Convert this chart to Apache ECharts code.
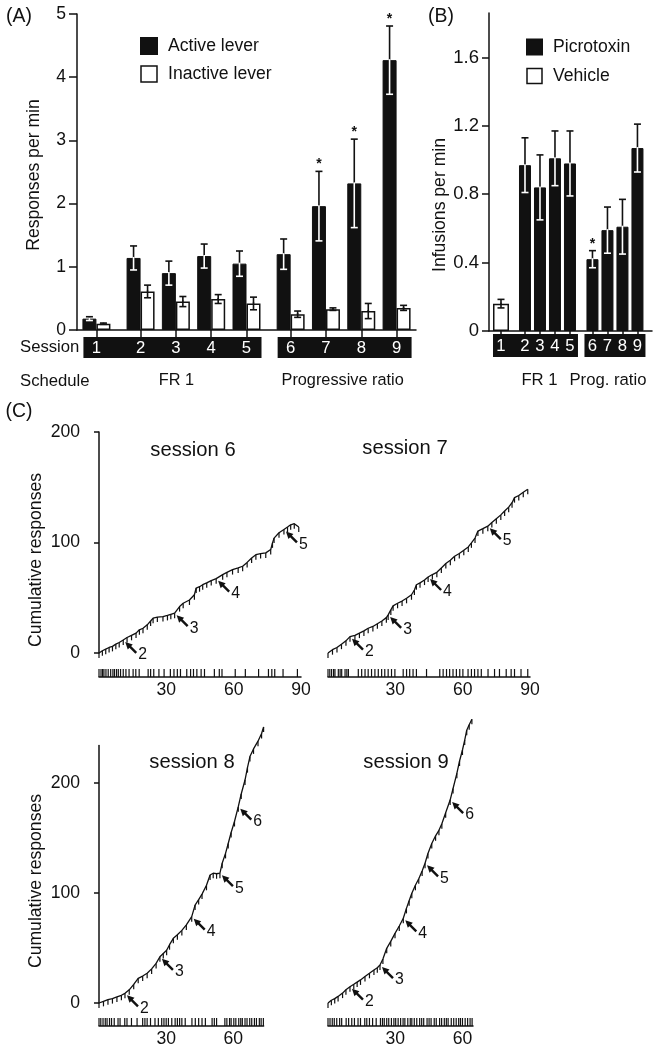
<!DOCTYPE html>
<html><head><meta charset="utf-8">
<script src="https://cdn.jsdelivr.net/npm/echarts@6/dist/echarts.min.js"></script>
<style>html,body{margin:0;padding:0;background:#fff}#c{width:654px;height:1050px}</style>
</head><body><div id="c"></div>
<script>
// ================= DATA =================
const sessions = [1, 2, 3, 4, 5, 6, 7, 8, 9];
// Panel A
const activeMean   = [0.18, 1.14, 0.90, 1.17, 1.05, 1.20, 1.96, 2.32, 4.27];
const activeSE     = [0.03, 0.19, 0.19, 0.19, 0.20, 0.24, 0.55, 0.70, 0.54];
const activeSig    = [0, 0, 0, 0, 0, 0, 1, 1, 1];
const inactiveMean = [0.10, 0.61, 0.45, 0.49, 0.42, 0.25, 0.33, 0.30, 0.35];
const inactiveSE   = [0.01, 0.10, 0.08, 0.07, 0.10, 0.05, 0.02, 0.12, 0.04];
const yTicksA = [0, 1, 2, 3, 4, 5];
// Panel B
const picroMean   = [null, 0.97, 0.84, 1.01, 0.98, 0.42, 0.59, 0.61, 1.07];
const picroSE     = [null, 0.16, 0.19, 0.16, 0.19, 0.05, 0.135, 0.16, 0.14];
const picroSig    = [0, 0, 0, 0, 0, 1, 0, 0, 0];
const vehicleMean = [0.16, null, null, null, null, null, null, null, null];
const vehicleSE   = [0.025, null, null, null, null, null, null, null, null];
const yTicksB = [0, 0.4, 0.8, 1.2, 1.6];
// schedule groups (first session, last session)
const scheduleGroups = [[1, 5], [6, 9]];
const scheduleNamesA = ['FR 1', 'Progressive ratio'];
const scheduleNamesB = ['FR 1', 'Prog. ratio'];
// Panel C: cumulative records (minutes, cumulative responses)
const curveS6 = [[0,0],[1.5,2],[3,3.5],[4.5,5],[6,6],[7.5,8],[9,9.5],[10.8,11.8],[12.5,14],[14.5,16],[16.5,18],[18,21],[19.6,22.4],[21.5,25.5],[23,29],[24.1,31.5],[26,32.5],[28.5,33],[30.5,34],[32,35],[33.7,36],[35.9,42],[37.5,45],[40.3,48],[42.5,52.7],[43.3,58.8],[44.8,60],[46.2,61.8],[48,63.5],[50,65.5],[52.2,67.3],[55.1,70.9],[57,73],[59.5,75.5],[62,77],[64,78.5],[66,82],[68,86],[69.9,89],[72,90],[74.3,90.6],[76.5,93.6],[77.3,99.7],[78,104],[80.2,108.8],[82.4,111.8],[84,114],[85.4,116],[87,117],[89,114]];
const curveS7 = [[0,0],[2,3],[4,5],[6,8],[8,11],[9.8,14.8],[12,16],[14,18],[16,20],[17.9,22.4],[20,24],[22,26.5],[24,29],[26,32],[26.8,34.5],[28,39],[29,42.7],[31,45],[33,47],[35,49.5],[37.2,52.7],[38.5,57],[39.4,61.8],[41,63.5],[43,66],[44.6,68.8],[46.5,71],[48.5,73],[50.5,77],[52.5,81],[54.5,84],[56.4,87.6],[58.5,90],[60.5,93],[62.5,96],[63.9,99.7],[65.5,104],[66.8,110.3],[69,112.5],[71.2,114.8],[73,118],[75,121.5],[77,125],[78.7,128.5],[80.5,132],[82,136],[83.1,140.6],[85,142.5],[87,145.5],[89,148.2]];
const curveS8 = [[0,0],[2,1.5],[4,3],[6,4],[8,5.5],[10,7],[11.6,8.8],[13.5,12],[15.5,17],[17.5,22.4],[19.5,24.5],[21.5,27],[23.5,31],[25.5,36],[27.2,42],[28.7,45],[30.2,48],[31.5,53],[33.2,58.8],[35,62],[37,66],[39,71],[41.4,78.5],[42.9,89],[44.5,94],[46,99],[48,107],[49.6,116.4],[51,118],[52.5,117.5],[54,118],[55,127],[56.5,136],[57.7,145],[59,155],[60.5,165],[62.2,178.5],[63.5,190],[65.2,202.7],[66.3,214],[67.4,224],[69,231],[71,238],[72.6,245],[73.5,251]];
const curveS9 = [[0,0],[1.5,2.5],[3,4],[4.5,6],[6.5,9],[8,12],[9.8,14.8],[11.5,17],[13,19],[14.5,21],[16.5,24],[18.5,27],[20.5,30],[22,32],[23.2,34.5],[24.5,40],[26.2,49.7],[28,56],[29.9,63.3],[31.8,70],[33.6,77],[35,86],[36.2,93],[37.4,99.7],[39,107],[40.5,113],[42,120],[43.3,127],[44.6,136],[46.3,145],[48,152],[49.5,157],[50.8,163],[52.5,173],[54.5,184.5],[55.8,195],[57.5,208.8],[58.7,220],[60,230],[61,239],[61.9,248],[63,253],[64.2,258]];
// arrows (minute, cumulative) marking ratio steps
const arrowsS6 = [[10.8,11.8],[33.7,36],[52.2,67.3],[82.4,111.8]];
const arrowsS7 = [[9.8,14.8],[26.8,34.5],[44.6,68.8],[71.2,114.8]];
const arrowsS8 = [[11.6,8.8],[27.2,42],[41.4,78.5],[54,118],[62.2,178.5]];
const arrowsS9 = [[9.8,14.8],[23.2,34.5],[33.6,77],[43.3,127],[54.5,184.5]];
const arrowLabels = ['2', '3', '4', '5', '6'];
// infusion event times (minutes)
const eventsS6 = [0,0.9,1.6,2.2,3.1,4.1,5.2,6.2,6.9,7.8,8.6,9.6,10.8,12.0,13.4,15.2,16.4,17.9,21.9,23.0,24.4,26.7,29.0,31.8,33.4,34.9,36.3,39.1,40.8,42.1,43.6,45.5,47.0,51.4,53.6,54.8,60.7,65.2,71.1,75.5,77.0,78.3,82.0,88.4];
const eventsS7 = [0,0.8,1.6,2.5,3.1,4.6,5.4,6.1,7.6,8.4,9.1,13.5,15.0,16.5,17.9,19.4,20.9,22.4,23.9,25.3,26.8,28.3,29.8,33.5,35.0,36.4,37.9,39.4,43.9,49.8,51.3,52.8,54.2,55.7,57.2,58.7,60.1,62.4,63.9,65.3,66.8,68.3,71.3,74.2,76.4,79.4,81.6,83.1,86.0,89.0];
const eventsS8 = [0,0.8,1.8,2.8,3.6,4.7,5.6,6.8,8.5,9.4,11.5,12.5,14.5,17.0,19.5,20.5,21.5,23.0,25.0,26.5,28.0,29.0,30.0,31.0,32.5,34.0,35.0,36.0,37.0,38.5,41.5,43.0,44.5,46.0,47.5,50.5,51.5,52.5,56.2,57.1,58.3,59.0,60.2,61.1,62.4,63.3,64.0,65.2,66.1,67.3,68.2,69.4,70.3,71.6,72.4,73.4];
const eventsS9 = [0,0.9,1.9,2.8,3.9,5.2,6.1,8.1,9.2,10.6,11.8,13.4,14.5,16.4,17.3,18.5,19.9,21.5,23.4,24.3,25.1,26.2,27.1,28.3,29.4,30.2,31.3,32.4,33.5,34.3,35.6,36.7,37.4,38.5,39.6,40.9,41.8,42.7,44.2,45.1,46.0,47.4,48.3,49.8,50.7,51.9,52.8,53.6,55.0,56.1,57.2,58.3,59.1,60.0,61.2,62.3,63.4,64.3];
const xTicksC = [30, 60, 90];
const yTicksC = [0, 100, 200];

// ================= STYLE / LAYOUT =================
function hasFont(name) {
  const c = document.createElement('canvas').getContext('2d');
  const s = 'Session lever 0123456789';
  c.font = '40px monospace'; const base = c.measureText(s).width;
  c.font = '40px "' + name + '", monospace'; return c.measureText(s).width !== base;
}
const NARROW = hasFont('Liberation Sans Narrow');
const FF = NARROW ? '"Liberation Sans Narrow", "Liberation Sans", Arial, sans-serif' : '"Liberation Sans", Arial, sans-serif';
const fs = s => NARROW ? s : Math.round(s * 0.88 * 10) / 10;
const BLACK = '#111';
const posFn = (g1, g2) => s => s + (s >= 2 ? g1 : 0) + (s >= 6 ? g2 : 0);
const posA = posFn(0.25, 0.25);
const posB = posFn(0.6, 0.5);

function textStyle(size, extra) {
  return Object.assign({ fontFamily: FF, fontSize: fs(size), fill: BLACK, align: 'center', verticalAlign: 'middle', textAlign: 'center', textVerticalAlign: 'middle' }, extra || {});
}

// error-bar renderer
function errRender(params, api) {
  const x = api.value(0), m = api.value(1), se = api.value(2), off = api.value(3), dark = api.value(4), sig = api.value(5);
  const pT = api.coord([x, m + se]), pM = api.coord([x, m]), pB = api.coord([x, m - se]);
  const cx = pM[0] + off, cw = 3.5, lw = 1.6;
  const lower = dark ? '#fff' : BLACK;
  const ch = [
    { type: 'line', shape: { x1: cx, y1: pM[1], x2: cx, y2: pT[1] }, style: { stroke: BLACK, lineWidth: lw } },
    { type: 'line', shape: { x1: cx - cw, y1: pT[1], x2: cx + cw, y2: pT[1] }, style: { stroke: BLACK, lineWidth: lw } },
    { type: 'line', shape: { x1: cx, y1: pM[1] - 1, x2: cx, y2: pB[1] }, style: { stroke: lower, lineWidth: lw } },
    { type: 'line', shape: { x1: cx - cw, y1: pB[1], x2: cx + cw, y2: pB[1] }, style: { stroke: lower, lineWidth: lw } }
  ];
  if (sig) ch.push({ type: 'text', style: textStyle(16, { text: '*', x: cx, y: pT[1] - 7, fontWeight: 'bold' }) });
  return { type: 'group', children: ch };
}

function boxRender(cfg) {
  return function (params, api) {
    const a = api.coord([api.value(0), 0]), b = api.coord([api.value(1), 0]);
    const x0 = a[0] - cfg.padL, x1 = b[0] + cfg.padR, y0 = a[1] + cfg.dy;
    return { type: 'group', children: [
      { type: 'rect', shape: { x: x0, y: y0, width: x1 - x0, height: cfg.h }, style: { fill: BLACK } },
      { type: 'text', style: textStyle(cfg.nameSize, { text: cfg.names[params.dataIndex], x: (x0 + x1) / 2 + cfg.nameDx[params.dataIndex], y: a[1] + cfg.nameDy }) }
    ] };
  };
}
function numRender(cfg) {
  return function (params, api) {
    const p = api.coord([api.value(0), 0]);
    return { type: 'text', style: textStyle(cfg.size, { text: String(api.value(1)), x: p[0], y: p[1] + cfg.dy, fill: '#fff' }) };
  };
}
function arrowRender(labels) {
  return function (params, api) {
    const p = api.coord([api.value(0), api.value(1)]);
    const tx = p[0] + 2, ty = p[1] + 2;
    return { type: 'group', children: [
      { type: 'polygon', shape: { points: [[tx, ty], [tx + 7.5, ty + 2.5], [tx + 2.5, ty + 7.5]] }, style: { fill: BLACK } },
      { type: 'line', shape: { x1: tx + 4, y1: ty + 4, x2: tx + 11, y2: ty + 11 }, style: { stroke: BLACK, lineWidth: 2.4 } },
      { type: 'text', style: textStyle(18, { text: labels[params.dataIndex], x: tx + 13, y: ty + 13, align: 'left', textAlign: 'left' }) }
    ] };
  };
}

// ================= BUILD =================
const grids = [], xAxes = [], yAxes = [], series = [];
const axisLineStyle = { color: BLACK, width: 1.5 };

// ---------- Panel A ----------
grids.push({ left: 77, top: 14, width: 339, height: 316 });
xAxes.push({ type: 'value', gridIndex: 0, min: 0.45, max: 10.05, axisLine: { show: true, lineStyle: axisLineStyle },
  axisTick: { show: true, customValues: sessions.map(posA), length: 7, lineStyle: axisLineStyle }, axisLabel: { show: false }, splitLine: { show: false } });
yAxes.push({ type: 'value', gridIndex: 0, min: 0, max: 5, interval: 1, axisLine: { show: true, lineStyle: axisLineStyle },
  axisTick: { show: true, length: 8, lineStyle: axisLineStyle }, splitLine: { show: false },
  axisLabel: { customValues: yTicksA, margin: 11, fontFamily: FF, fontSize: fs(20), color: BLACK } });
series.push({ name: 'Active lever', type: 'bar', xAxisIndex: 0, yAxisIndex: 0, barWidth: 14, barGap: '0%',
  data: sessions.map((s, i) => [posA(s), activeMean[i]]), itemStyle: { color: BLACK, borderColor: BLACK, borderWidth: 1 } });
series.push({ name: 'Inactive lever', type: 'bar', xAxisIndex: 0, yAxisIndex: 0, barWidth: 14, barGap: '0%',
  data: sessions.map((s, i) => [posA(s), inactiveMean[i]]), itemStyle: { color: '#fff', borderColor: BLACK, borderWidth: 1.5 } });
const errA = [];
sessions.forEach((s, i) => {
  errA.push([posA(s), activeMean[i], activeSE[i], -7, 1, activeSig[i]]);
  errA.push([posA(s), inactiveMean[i], inactiveSE[i], 7, 0, 0]);
});
series.push({ type: 'custom', xAxisIndex: 0, yAxisIndex: 0, z: 5, renderItem: errRender, data: errA, silent: true });
series.push({ type: 'custom', xAxisIndex: 0, yAxisIndex: 0, z: 6, silent: true,
  renderItem: boxRender({ padL: 13, padR: 15, dy: 7, h: 21, names: scheduleNamesA, nameSize: 18.5, nameDy: 51, nameDx: [4, -2] }),
  data: scheduleGroups.map(g => [posA(g[0]), posA(g[1])]) });
series.push({ type: 'custom', xAxisIndex: 0, yAxisIndex: 0, z: 7, silent: true,
  renderItem: numRender({ size: 19, dy: 18 }), data: sessions.map(s => [posA(s), s]) });

// ---------- Panel B ----------
grids.push({ left: 489, top: 13, width: 163, height: 318 });
xAxes.push({ type: 'value', gridIndex: 1, min: 0.2, max: 11.07, axisLine: { show: true, lineStyle: axisLineStyle },
  axisTick: { show: true, customValues: sessions.map(posB), length: 6, lineStyle: axisLineStyle }, axisLabel: { show: false }, splitLine: { show: false } });
xAxes.push({ type: 'value', gridIndex: 1, min: 0.2, max: 11.07, show: false, splitLine: { show: false } });
yAxes.push({ type: 'value', gridIndex: 1, min: 0, max: 1.86, interval: 0.4, axisLine: { show: true, lineStyle: axisLineStyle },
  axisTick: { show: true, customValues: yTicksB, length: 7, lineStyle: axisLineStyle }, splitLine: { show: false },
  axisLabel: { customValues: yTicksB, margin: 10, fontFamily: FF, fontSize: fs(21), color: BLACK, formatter: v => v === 0 ? '0' : v.toFixed(1) } });
series.push({ name: 'Picrotoxin', type: 'bar', xAxisIndex: 1, yAxisIndex: 1, barWidth: 12,
  data: sessions.map((s, i) => picroMean[i] == null ? null : [posB(s), picroMean[i]]).filter(d => d), itemStyle: { color: BLACK, borderColor: BLACK, borderWidth: 1 } });
series.push({ name: 'Vehicle', type: 'bar', xAxisIndex: 2, yAxisIndex: 1, barWidth: 16,
  data: sessions.map((s, i) => vehicleMean[i] == null ? null : [posB(s), vehicleMean[i]]).filter(d => d), itemStyle: { color: '#fff', borderColor: BLACK, borderWidth: 1.5 } });
const errB = [];
sessions.forEach((s, i) => {
  if (picroMean[i] != null) errB.push([posB(s), picroMean[i], picroSE[i], 0, 1, picroSig[i]]);
  if (vehicleMean[i] != null) errB.push([posB(s), vehicleMean[i], vehicleSE[i], 0, 0, 0]);
});
series.push({ type: 'custom', xAxisIndex: 1, yAxisIndex: 1, z: 5, renderItem: errRender, data: errB, silent: true });
series.push({ type: 'custom', xAxisIndex: 1, yAxisIndex: 1, z: 6, silent: true,
  renderItem: boxRender({ padL: 8, padR: 8, dy: 3, h: 23, names: scheduleNamesB, nameSize: 19, nameDy: 49, nameDx: [4, -7] }),
  data: scheduleGroups.map(g => [posB(g[0]), posB(g[1])]) });
series.push({ type: 'custom', xAxisIndex: 1, yAxisIndex: 1, z: 7, silent: true,
  renderItem: numRender({ size: 19, dy: 15 }), data: sessions.map(s => [posB(s), s]) });

// ---------- Panel C ----------
const panelsC = [
  { curve: curveS6, events: eventsS6, arrows: arrowsS6, left: 99, top: 432, width: 202, height: 221, xMax: 90, yMax: 200, rowTop: 669, showY: true },
  { curve: curveS7, events: eventsS7, arrows: arrowsS7, left: 328, top: 432, width: 202, height: 221, xMax: 90, yMax: 200, rowTop: 669, showY: false },
  { curve: curveS8, events: eventsS8, arrows: arrowsS8, left: 99, top: 745.6, width: 164.6, height: 257.4, xMax: 73.5, yMax: 234, rowTop: 1018, showY: true },
  { curve: curveS9, events: eventsS9, arrows: arrowsS9, left: 328, top: 745.6, width: 145, height: 257.4, xMax: 64.7, yMax: 234, rowTop: 1018, showY: false }
];
panelsC.forEach(p => {
  const gMain = grids.length;
  grids.push({ left: p.left, top: p.top, width: p.width, height: p.height });
  grids.push({ left: p.left, top: p.rowTop, width: p.width, height: 8 });
  const xMain = xAxes.length;
  xAxes.push({ type: 'value', gridIndex: gMain, min: 0, max: p.xMax, show: false, splitLine: { show: false } });
  xAxes.push({ type: 'value', gridIndex: gMain + 1, min: 0, max: p.xMax, interval: 30,
    axisLine: { show: true, lineStyle: axisLineStyle }, axisTick: { show: false }, splitLine: { show: false },
    axisLabel: { customValues: xTicksC.filter(v => v <= p.xMax), margin: 4, fontFamily: FF, fontSize: fs(20), color: BLACK, formatter: v => v === 0 ? '' : String(v) } });
  const yMain = yAxes.length;
  yAxes.push({ type: 'value', gridIndex: gMain, min: 0, max: p.yMax, show: p.showY, offset: 12, splitLine: { show: false },
    axisLine: { show: true, lineStyle: axisLineStyle }, axisTick: { show: true, customValues: yTicksC, length: 5, lineStyle: axisLineStyle },
    axisLabel: { customValues: yTicksC, margin: 7, fontFamily: FF, fontSize: fs(20), color: BLACK } });
  yAxes.push({ type: 'value', gridIndex: gMain + 1, min: 0, max: 1, show: false, splitLine: { show: false } });
  series.push({ type: 'line', xAxisIndex: xMain, yAxisIndex: yMain, data: p.curve, clip: false, silent: true,
    symbol: 'rect', symbolSize: [1.2, 5], symbolOffset: [0, 2.5], showSymbol: true, showAllSymbol: true,
    lineStyle: { color: BLACK, width: 1.3 }, itemStyle: { color: BLACK } });
  series.push({ type: 'custom', xAxisIndex: xMain, yAxisIndex: yMain, silent: true, z: 4,
    renderItem: arrowRender(arrowLabels), data: p.arrows });
  series.push({ type: 'bar', xAxisIndex: xMain + 1, yAxisIndex: yMain + 1, barWidth: 1.2, silent: true,
    data: p.events.map(t => [t, 1]), itemStyle: { color: BLACK } });
});

const gText = (text, x, y, size, extra) => ({ type: 'text', x: x, y: y, silent: true,
  style: Object.assign({ text: text, fontFamily: FF, fontSize: fs(size), fill: BLACK, align: 'center', verticalAlign: 'middle', textAlign: 'center', textVerticalAlign: 'middle' }, extra || {}) });
const rot = t => Object.assign(t, { rotation: Math.PI / 2 });

const option = {
  animation: false,
  backgroundColor: '#fff',
  textStyle: { fontFamily: FF },
  grid: grids, xAxis: xAxes, yAxis: yAxes, series: series,
  legend: [
    { data: ['Active lever', { name: 'Inactive lever', itemStyle: { color: '#fff', borderColor: BLACK, borderWidth: 1.5 } }],
      left: 135, top: 32, orient: 'vertical', icon: 'rect', itemWidth: 16, itemHeight: 16, itemGap: 10, selectedMode: false,
      textStyle: { fontFamily: FF, fontSize: fs(20), color: BLACK, padding: [0, 0, 0, 6] } },
    { data: ['Picrotoxin', { name: 'Vehicle', itemStyle: { color: '#fff', borderColor: BLACK, borderWidth: 1.5 } }],
      left: 521, top: 33, orient: 'vertical', icon: 'rect', itemWidth: 15, itemHeight: 15, itemGap: 11, selectedMode: false,
      textStyle: { fontFamily: FF, fontSize: fs(20), color: BLACK, padding: [0, 0, 0, 6] } }
  ],
  graphic: [
    gText('(A)', 19, 17, 22),
    gText('(B)', 441, 17, 22),
    gText('(C)', 19, 412, 22),
    rot(gText('Responses per min', 34, 175, 20)),
    rot(gText('Infusions per min', 440, 205, 20)),
    gText('Session', 20, 347, 19, { align: 'left', textAlign: 'left' }),
    gText('Schedule', 20, 381, 19, { align: 'left', textAlign: 'left' }),
    gText('session 6', 193, 450, 23),
    gText('session 7', 405, 448, 23),
    gText('session 8', 192, 762, 23),
    gText('session 9', 406, 762, 23),
    rot(gText('Cumulative responses', 36, 560, 20)),
    rot(gText('Cumulative responses', 36, 881, 20))
  ]
};
const chart = echarts.init(document.getElementById('c'), null, { renderer: 'canvas' });
chart.setOption(option);
</script>
</body></html>
